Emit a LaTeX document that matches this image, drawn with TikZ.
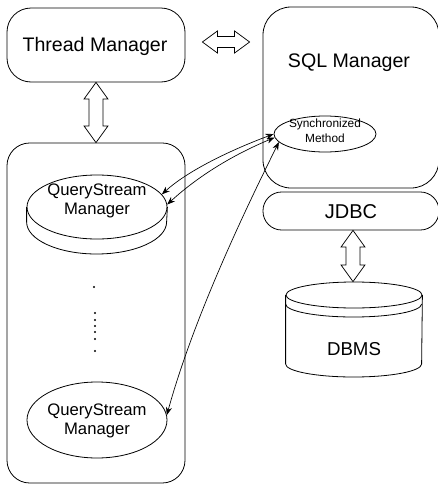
\documentclass[tikz,border=0pt]{standalone}
\usepackage{fontspec}
\setmainfont{Liberation Sans}
\usetikzlibrary{arrows.meta,shapes.geometric,fit,calc}

% hollow double arrow, vertical: #1 upper tip, #2 lower tip
\newcommand\fatvarrow[2]{%
  \draw[fat] let \p1=(#1), \p2=(#2) in
    (\x1,\y1) -- (\x1+9pt,\y1-12.5pt) -- (\x1+5.25pt,\y1-12.5pt)
    -- (\x1+5.25pt,\y2+12.5pt) -- (\x1+9pt,\y2+12.5pt) -- (\x1,\y2)
    -- (\x1-9pt,\y2+12.5pt) -- (\x1-5.25pt,\y2+12.5pt)
    -- (\x1-5.25pt,\y1-12.5pt) -- (\x1-9pt,\y1-12.5pt) -- cycle;}
% hollow double arrow, horizontal: #1 left tip, #2 right tip
\newcommand\fatharrow[2]{%
  \draw[fat] let \p1=(#1), \p2=(#2) in
    (\x1,\y1) -- (\x1+11.25pt,\y1+8.25pt) -- (\x1+11.25pt,\y1+4.1pt)
    -- (\x2-11.25pt,\y1+4.1pt) -- (\x2-11.25pt,\y1+8.25pt) -- (\x2,\y1)
    -- (\x2-11.25pt,\y1-8.25pt) -- (\x2-11.25pt,\y1-4.1pt)
    -- (\x1+11.25pt,\y1-4.1pt) -- (\x1+11.25pt,\y1-8.25pt) -- cycle;}

\begin{document}
\begin{tikzpicture}[x=0.75pt,y=-0.75pt,
  line width=0.6pt,
  box/.style={draw, inner sep=0pt},
  fat/.style={draw, line width=0.55pt, line join=miter},
  link/.style={line width=0.5pt,
    {Stealth[length=6pt,width=4.5pt]}-{Stealth[length=6pt,width=4.5pt]}},
  bigfont/.style={font=\fontsize{14.7}{17}\selectfont},
  qsfont/.style={font=\fontsize{12.5}{14}\selectfont, align=center},
  smfont/.style={font=\fontsize{8.9}{11}\selectfont, align=center}]

\useasboundingbox (0,0) rectangle (437,493);

% managers
\node[box, rounded corners=18pt, fit={(7,8) (185,82)}] (tm) {};
\node[bigfont] (tmtext) at (95,46) {Thread Manager};
\node[box, rounded corners=21pt, fit={(263,7) (439,188)}] (sql) {};
\node[bigfont] (sqltext) at (349,63) {SQL Manager};
\node[box, rounded corners=14pt, fit={(263,192) (439,230)}] (jdbc) {};
\node[font=\fontsize{15}{17}\selectfont] (jdbctext) at (351,212) {JDBC};

% synchronized method inside the SQL manager
\node[draw, ellipse, inner sep=0pt, minimum width=76.5pt, minimum height=27pt] (sm) at (325,134) {};
\node[smfont] (smtext) at (325,131) {Synchronized\\Method};

% container of query stream managers
\node[box, rounded corners=17pt, fit={(7,143) (185,483)}] (qbox) {};

% first query stream manager, drawn as a disk
\node[draw, ellipse, inner sep=0pt, minimum width=105pt, minimum height=48pt] (qs1) at (97,207) {};
\draw (qs1.west) -- ++(0,15) arc[start angle=180, end angle=0, x radius=70, y radius=32] -- (qs1.east);
\node[qsfont] (qs1text) at (97,201) {QueryStream\\Manager};

% elided managers
\fill (94,287) circle[radius=1.1];
\foreach \yy in {313,320,326,332,339,351}
  \fill (95,\yy) circle[radius=1.1];

% last query stream manager
\node[draw, ellipse, inner sep=0pt, minimum width=105pt, minimum height=57pt] (qs2) at (97,420) {};
\node[qsfont] (qs2text) at (97,421) {QueryStream\\Manager};

% database
\node[draw, ellipse, inner sep=0pt, minimum width=102pt, minimum height=19.5pt] (dbtop) at (354,295) {};
\draw (dbtop.west) ++(0,9) arc[start angle=180, end angle=0, x radius=68, y radius=13];
\draw (dbtop.west) -- ++(0,69) arc[start angle=180, end angle=0, x radius=68, y radius=13] -- (dbtop.east);
\node[font=\fontsize{14}{16}\selectfont] (dbms) at (354,349) {DBMS};

% hollow double arrows
\coordinate (hl) at ($(tm.east)+(17,-3)$);
\coordinate (hr) at ($(sql.west |- hl)+(-13,0)$);
\fatharrow{hl}{hr}
\fatvarrow{tm.south}{qbox.north}
\coordinate (jt) at (jdbc.south -| 353,0);
\coordinate (jb) at (dbtop.north -| 353,0);
\fatvarrow{jt}{jb}

% calls between the stream managers and the synchronized method
\draw[link] (sm.180) .. controls +(-48,18) and +(24,-22) .. (qs1.11);
\draw[link] (sm.184) .. controls +(-48,20) and +(26,-24) .. (qs1.2);
\draw[link] (sm.190) .. controls +(-50,100) and +(22,-80) .. (qs2.4);
\end{tikzpicture}
\end{document}
